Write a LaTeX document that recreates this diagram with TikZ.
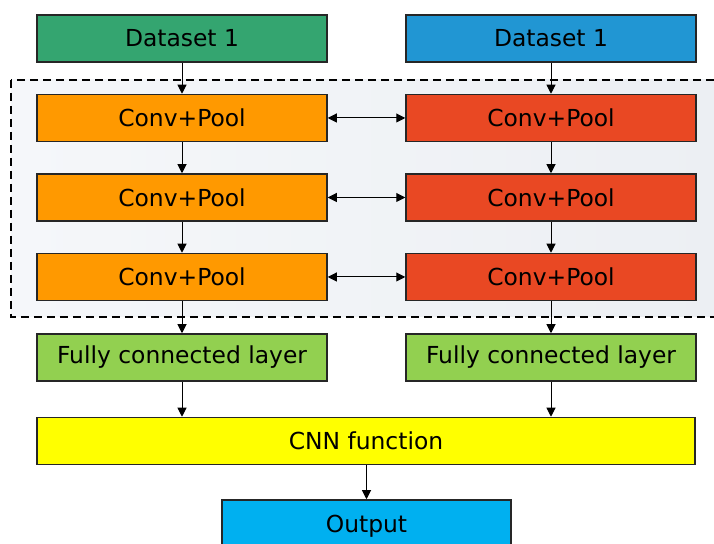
\documentclass[tikz,border=0pt]{standalone}
\usepackage{fontspec}
\setmainfont{DejaVu Sans}
\usetikzlibrary{arrows.meta}
\usetikzlibrary{positioning}

\definecolor{dsgreen}{RGB}{52,165,112}
\definecolor{dsblue}{RGB}{33,150,211}
\definecolor{convorange}{RGB}{255,153,0}
\definecolor{convred}{RGB}{233,72,35}
\definecolor{fcgreen}{RGB}{146,208,80}
\definecolor{cnnyellow}{RGB}{255,255,0}
\definecolor{outcyan}{RGB}{0,176,240}
\definecolor{sharedleft}{RGB}{245,247,250}
\definecolor{sharedright}{RGB}{236,239,243}

\tikzset{
  box/.style={draw=black!85, line width=0.75pt, minimum width=145pt,
    minimum height=23.5pt, inner sep=0pt, font=\fontsize{11.7}{14}\selectfont},
  flow/.style={-{Triangle[length=4.5pt,width=4.5pt]}, line width=0.5pt},
  link/.style={{Triangle[length=4.5pt,width=4.5pt]}-{Triangle[length=4.5pt,width=4.5pt]}, line width=0.5pt},
}

\begin{document}
\begin{tikzpicture}[x=0.5pt, y=-0.5pt]
    \clip (0,0) rectangle (714,544);
    \useasboundingbox (0,0) rectangle (714,544);

    % shared conv area
    \draw[dashed, dash pattern=on 4pt off 2.5pt, line width=0.7pt,
      left color=sharedleft, right color=sharedright]
      (11,80) rectangle (730,317);

    % the two inputs
    \node[box, fill=dsgreen] (ds1) at (182,38.5) {Dataset 1};
    \node[box, fill=dsblue] (ds2) at (551,38.5) {Dataset 1};

    % conv layers, left and right
    \node[box, fill=convorange] (cl1) at (182,118) {Conv+Pool};
    \node[box, fill=convorange] (cl2) at (182,197.5) {Conv+Pool};
    \node[box, fill=convorange] (cl3) at (182,277) {Conv+Pool};
    \node[box, fill=convred] (cr1) at (551,118) {Conv+Pool};
    \node[box, fill=convred] (cr2) at (551,197.5) {Conv+Pool};
    \node[box, fill=convred] (cr3) at (551,277) {Conv+Pool};

    \node[box, fill=fcgreen] (fcl) at (182,357.5) {Fully connected layer};
    \node[box, fill=fcgreen] (fcr) at (551,357.5) {Fully connected layer};

    \node[box, fill=cnnyellow, minimum width=329pt] (cnn) at (366,441) {CNN function};
    \node[box, fill=outcyan, minimum width=144.5pt, minimum height=26pt] (out) at (366.5,526) {Output};

    % vertical flow
    \draw[flow] (ds1) -- (cl1);
    \draw[flow] (cl1) -- (cl2);
    \draw[flow] (cl2) -- (cl3);
    \draw[flow] (cl3) -- (fcl);
    \draw[flow] (ds2) -- (cr1);
    \draw[flow] (cr1) -- (cr2);
    \draw[flow] (cr2) -- (cr3);
    \draw[flow] (cr3) -- (fcr);
    \draw[flow] (fcl.south) -- (fcl.south |- cnn.north);
    \draw[flow] (fcr.south) -- (fcr.south |- cnn.north);
    \draw[flow] (cnn.south -| out.north) -- (out.north);

    % exchange between the branches
    \foreach \i in {1,2,3}
      \draw[link] (cl\i) -- (cr\i);
  \end{tikzpicture}
\end{document}
